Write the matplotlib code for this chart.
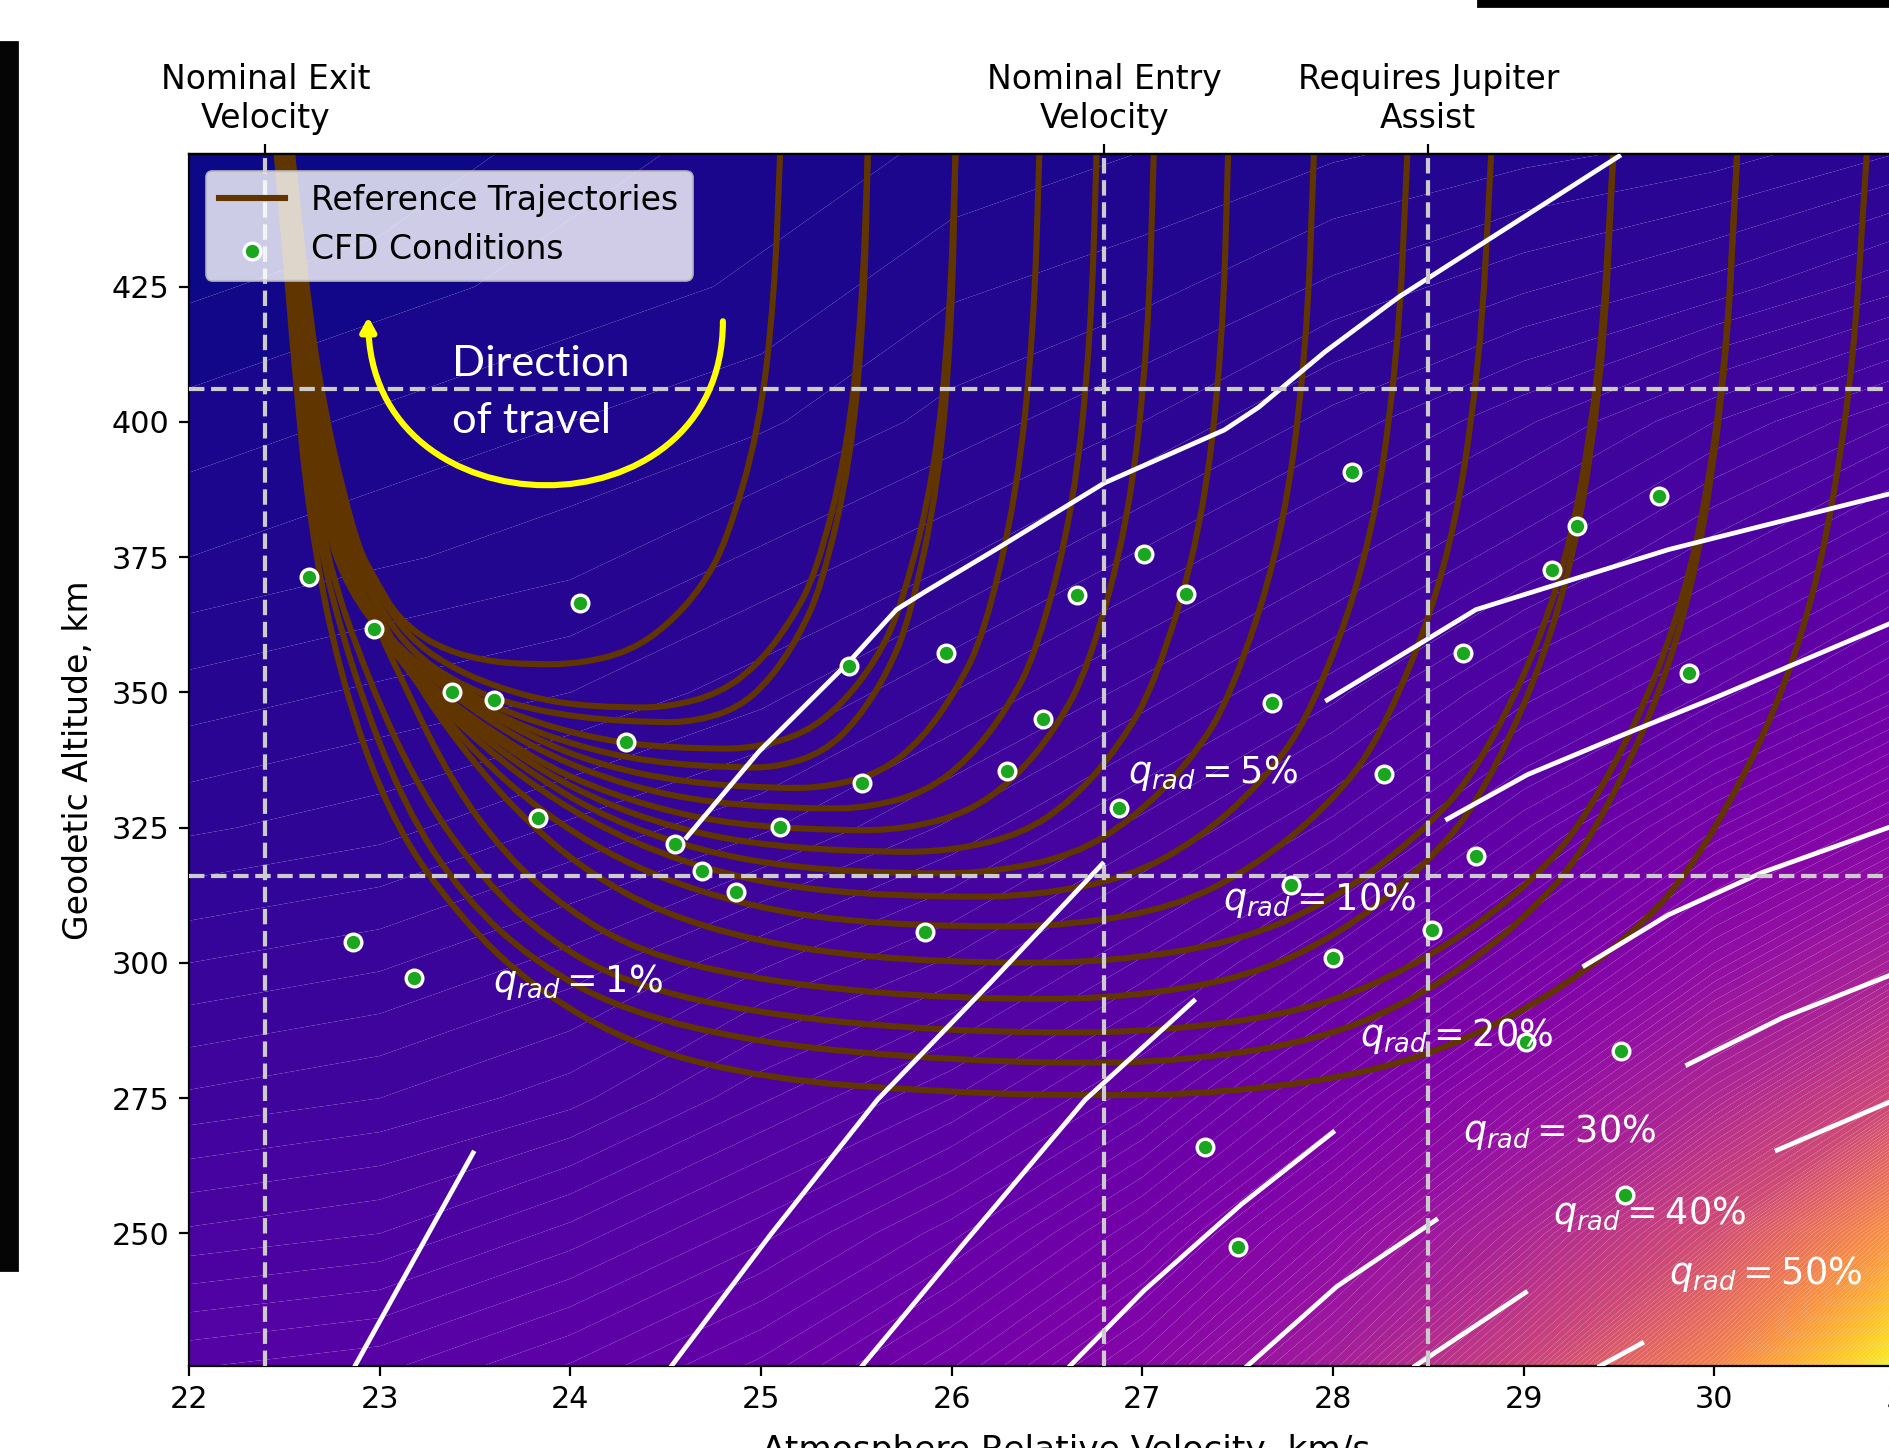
import numpy as np
import matplotlib.pyplot as plt
from matplotlib.path import Path
from matplotlib.patches import FancyArrowPatch, Rectangle, PathPatch
from matplotlib.lines import Line2D

# background heating level (0..1 of colour scale) on a coarse velocity/altitude grid
grid_v = [22, 23, 24, 25, 26, 27, 28, 29, 30, 31, 32]
grid_h = [225, 250, 275, 300, 325, 350, 375, 400, 425, 450]
heat_grid = [
    [0.150, 0.155, 0.170, 0.190, 0.225, 0.275, 0.360, 0.490, 0.700, 1.000, 1.000],
    [0.120, 0.125, 0.140, 0.160, 0.185, 0.225, 0.290, 0.385, 0.520, 0.760, 0.880],
    [0.095, 0.100, 0.110, 0.130, 0.150, 0.180, 0.230, 0.300, 0.390, 0.510, 0.610],
    [0.075, 0.080, 0.090, 0.105, 0.120, 0.145, 0.180, 0.230, 0.300, 0.370, 0.440],
    [0.055, 0.060, 0.070, 0.080, 0.095, 0.115, 0.140, 0.180, 0.230, 0.280, 0.330],
    [0.040, 0.045, 0.050, 0.060, 0.075, 0.090, 0.110, 0.140, 0.170, 0.210, 0.250],
    [0.025, 0.030, 0.035, 0.045, 0.055, 0.070, 0.085, 0.105, 0.130, 0.160, 0.190],
    [0.015, 0.020, 0.025, 0.030, 0.040, 0.050, 0.065, 0.080, 0.100, 0.120, 0.140],
    [0.005, 0.010, 0.015, 0.020, 0.030, 0.035, 0.045, 0.055, 0.065, 0.080, 0.090],
    [0.000, 0.000, 0.010, 0.015, 0.020, 0.025, 0.030, 0.035, 0.040, 0.050, 0.060],
]

# q_rad iso-lines, each in two pieces with the label sitting in the gap
q_levels = ['1', '5', '10', '20', '30', '40', '50']
q_low_v = [
    [22.87, 23.49],
    [24.53, 25.05, 25.61, 26.21, 26.79],
    [25.53, 26.06, 26.70, 27.27],
    [26.62, 27.01, 27.52, 28.00],
    [27.55, 28.02, 28.54],
    [28.43, 29.01],
    [29.40, 29.62],
]
q_low_h = [
    [225.5, 264.9],
    [225.5, 249.8, 274.7, 296.6, 318.3],
    [225.5, 248.0, 274.7, 293.0],
    [225.5, 239.5, 255.4, 268.7],
    [225.5, 240.2, 252.5],
    [225.5, 239.1],
    [225.5, 229.7],
]
q_up_v = [
    [24.61, 24.99, 25.46, 25.71, 25.86, 26.23, 26.80, 27.43, 27.61, 27.96, 28.35, 29.50],
    [27.97, 28.75, 29.76, 30.92],
    [28.60, 29.02, 29.51, 30.01, 30.92],
    [29.32, 29.76, 30.25, 30.92],
    [29.86, 30.36, 30.92],
    [30.33, 30.92],
    [],
]
q_up_h = [
    [323.2, 339.1, 355.6, 365.3, 368.6, 376.4, 388.7, 398.5, 402.7, 413.0, 423.2, 449.1],
    [348.6, 365.3, 376.4, 386.7],
    [326.6, 334.8, 342.0, 349.1, 362.7],
    [299.5, 308.9, 316.7, 325.1],
    [281.2, 289.9, 297.7],
    [265.4, 274.3],
    [],
]
q_label_v = [24.04, 27.37, 27.93, 28.65, 29.19, 29.66, 30.27]
q_label_h = [294.7, 333.3, 309.8, 284.6, 266.9, 251.8, 240.6]

# reference trajectories (velocity km/s, altitude km): entry at right, exit at left
traj_v = [
    [25.10, 25.07, 24.99, 24.82, 24.69, 24.51, 24.31, 24.06, 23.82,
     23.54, 23.28, 23.09, 22.99, 22.87, 22.78, 22.68, 22.61, 22.56, 22.53],
    [25.56, 25.53, 25.45, 25.29, 25.15, 24.98, 24.78, 24.53, 24.29,
     23.92, 23.60, 23.35, 23.16, 23.02, 22.90, 22.81, 22.71, 22.63, 22.54],
    [25.56, 25.54, 25.47, 25.32, 25.20, 25.05, 24.88, 24.66, 24.45,
     24.04, 23.66, 23.38, 23.16, 23.00, 22.89, 22.80, 22.70, 22.62, 22.54],
    [26.02, 25.99, 25.91, 25.74, 25.61, 25.43, 25.23, 24.97, 24.74,
     24.29, 23.92, 23.57, 23.25, 23.00, 22.83, 22.71, 22.63, 22.57, 22.51],
    [26.02, 26.00, 25.93, 25.78, 25.66, 25.50, 25.33, 25.10, 24.89,
     24.42, 24.04, 23.66, 23.31, 23.03, 22.84, 22.72, 22.64, 22.57, 22.51],
    [26.46, 26.43, 26.34, 26.17, 26.02, 25.84, 25.63, 25.36, 25.12,
     24.61, 24.17, 23.79, 23.44, 23.13, 22.89, 22.75, 22.66, 22.58, 22.51],
    [26.76, 26.73, 26.64, 26.45, 26.29, 26.09, 25.86, 25.57, 25.31,
     24.74, 24.29, 23.88, 23.54, 23.22, 22.97, 22.79, 22.68, 22.59, 22.50],
    [27.06, 27.03, 26.93, 26.72, 26.55, 26.33, 26.08, 25.76, 25.46,
     24.86, 24.42, 23.98, 23.63, 23.28, 23.01, 22.81, 22.69, 22.59, 22.50],
    [27.45, 27.42, 27.31, 27.07, 26.88, 26.64, 26.37, 26.01, 25.68,
     25.05, 24.55, 24.10, 23.73, 23.36, 23.05, 22.83, 22.70, 22.60, 22.49],
    [27.90, 27.86, 27.73, 27.46, 27.24, 26.95, 26.64, 26.22, 25.84,
     25.18, 24.67, 24.20, 23.82, 23.44, 23.11, 22.87, 22.71, 22.61, 22.49],
    [28.39, 28.34, 28.19, 27.88, 27.62, 27.29, 26.92, 26.44, 26.00,
     25.31, 24.80, 24.33, 23.92, 23.54, 23.18, 22.90, 22.73, 22.61, 22.49],
    [28.83, 28.77, 28.60, 28.25, 27.96, 27.58, 27.17, 26.63, 26.13,
     25.43, 24.93, 24.45, 24.04, 23.66, 23.31, 23.01, 22.79, 22.65, 22.56, 22.49],
    [29.47, 29.40, 29.20, 28.78, 28.43, 27.99, 27.49, 26.85, 26.25,
     25.56, 24.99, 24.48, 24.10, 23.79, 23.50, 23.22, 22.94, 22.73, 22.61, 22.48],
    [29.47, 29.41, 29.21, 28.80, 28.46, 28.03, 27.55, 26.93, 26.35,
     25.62, 24.93, 24.36, 23.98, 23.66, 23.38, 23.13, 22.87, 22.68, 22.58, 22.47],
    [30.12, 30.05, 29.82, 29.34, 28.95, 28.44, 27.88, 27.15, 26.47,
     25.68, 24.93, 24.29, 23.88, 23.54, 23.22, 22.94, 22.71, 22.60, 22.53, 22.47],
    [30.12, 30.05, 29.83, 29.36, 28.98, 28.49, 27.94, 27.23, 26.57,
     25.81, 24.99, 24.29, 23.82, 23.44, 23.13, 22.86, 22.66, 22.58, 22.52, 22.46],
    [30.80, 30.71, 30.45, 29.91, 29.47, 28.90, 28.25, 27.43, 26.66,
     25.87, 25.05, 24.36, 23.82, 23.42, 23.06, 22.79, 22.63, 22.55, 22.50, 22.46],
]
traj_h = [
    [449.5, 423.1, 398.5, 378.0, 369.5, 362.4, 357.6, 355.4, 355.1,
     355.8, 358.7, 364.0, 370.0, 377.8, 386.7, 400.1, 415.7, 433.5, 449.5],
    [449.5, 420.8, 394.2, 372.0, 362.8, 355.0, 349.8, 347.4, 347.1,
     348.0, 351.1, 355.1, 360.0, 366.7, 375.6, 386.7, 402.3, 420.1, 449.5],
    [449.5, 420.1, 392.7, 369.9, 360.5, 352.5, 347.1, 344.7, 344.4,
     345.3, 348.0, 352.2, 357.8, 365.6, 374.5, 385.6, 401.2, 420.1, 449.5],
    [449.5, 418.7, 390.1, 366.2, 356.3, 348.0, 342.4, 339.8, 339.5,
     340.4, 343.3, 347.7, 354.0, 361.1, 370.0, 381.1, 395.6, 417.9, 449.5],
    [449.5, 417.7, 388.2, 363.6, 353.4, 344.7, 339.0, 336.3, 336.0,
     337.1, 340.0, 344.9, 352.2, 360.0, 368.9, 380.0, 394.5, 417.9, 449.5],
    [449.5, 416.7, 386.2, 360.7, 350.1, 341.2, 335.2, 332.6, 332.2,
     333.3, 336.4, 341.7, 348.9, 357.1, 366.7, 377.8, 391.2, 413.4, 449.5],
    [449.5, 415.6, 384.1, 357.8, 346.9, 337.7, 331.5, 328.8, 328.4,
     329.5, 332.8, 338.4, 345.5, 354.0, 363.3, 374.5, 388.9, 411.2, 449.5],
    [449.5, 414.5, 381.9, 354.8, 343.5, 334.0, 327.7, 324.8, 324.4,
     325.5, 328.8, 334.4, 341.7, 350.6, 360.7, 372.2, 386.7, 409.0, 449.5],
    [449.5, 413.4, 379.8, 351.8, 340.2, 330.3, 323.8, 320.8, 320.4,
     321.5, 324.8, 330.6, 338.2, 347.7, 358.2, 370.5, 385.2, 406.8, 449.5],
    [449.5, 412.2, 377.6, 348.7, 336.8, 326.6, 319.9, 316.8, 316.4,
     317.5, 320.8, 326.6, 334.4, 344.4, 355.5, 368.5, 383.4, 404.5, 449.5],
    [449.5, 411.0, 375.3, 345.5, 333.1, 322.7, 315.7, 312.5, 312.1,
     313.2, 316.4, 322.1, 329.9, 340.0, 352.2, 366.2, 381.8, 403.4, 449.5],
    [449.5, 409.5, 372.3, 341.3, 328.5, 317.6, 310.3, 307.0, 306.6,
     307.7, 310.6, 315.9, 323.3, 333.3, 346.2, 361.1, 376.7, 397.8, 422.3, 449.5],
    [449.5, 407.6, 368.7, 336.3, 322.8, 311.4, 303.8, 300.3, 299.9,
     301.0, 303.9, 309.2, 316.6, 325.5, 336.6, 350.0, 367.8, 388.9, 416.8, 449.5],
    [449.5, 405.7, 365.1, 331.2, 317.1, 305.2, 297.3, 293.7, 293.2,
     294.3, 297.2, 302.1, 309.9, 319.9, 333.3, 351.1, 371.1, 395.6, 426.8, 449.5],
    [449.5, 404.0, 361.8, 326.5, 311.9, 299.5, 291.2, 287.5, 287.0,
     288.1, 291.0, 296.3, 304.3, 315.5, 331.1, 352.2, 375.6, 402.3, 431.2, 449.5],
    [449.5, 402.4, 358.7, 322.2, 307.1, 294.3, 285.8, 281.9, 281.4,
     282.5, 285.2, 291.0, 299.9, 312.1, 328.8, 353.3, 380.0, 406.8, 433.5, 449.5],
    [449.5, 400.8, 355.5, 317.7, 302.0, 288.8, 279.9, 275.9, 275.4,
     276.3, 278.5, 284.3, 295.0, 308.3, 326.2, 352.9, 381.8, 411.2, 433.5, 449.5],
]

# CFD conditions
cfd_v = [22.63, 22.97, 23.38, 23.60, 24.05, 23.83, 24.29, 24.55, 24.69, 24.87,
         22.86, 23.18, 25.10, 25.46, 25.53, 25.97, 25.86, 26.29, 26.48, 26.66,
         26.88, 27.01, 27.23, 27.33, 27.50, 27.68, 27.78, 28.00, 28.10, 28.27,
         28.52, 28.68, 28.75, 29.01, 29.15, 29.28, 29.51, 29.53, 29.71, 29.87]
cfd_h = [371.3, 361.8, 350.0, 348.6, 366.5, 326.7, 340.9, 321.9, 317.0, 313.2,
         303.9, 297.2, 325.2, 354.8, 333.3, 357.3, 305.8, 335.5, 345.1, 368.0,
         328.6, 375.5, 368.1, 266.0, 247.5, 348.0, 314.4, 300.9, 390.7, 335.0,
         306.1, 357.2, 319.8, 285.4, 372.6, 380.7, 283.8, 257.1, 386.3, 353.5]

# design limits
v_marks = [22.4, 26.8, 28.5]
v_mark_labels = ['Nominal Exit\nVelocity', 'Nominal Entry\nVelocity', 'Requires Jupiter\nAssist']
h_marks = [406, 316]

# "direction of travel" arrow (cubic curve: start, two handles, tip)
arrow_v = [24.80, 24.80, 22.94, 22.94]
arrow_h = [418.6, 377.8, 378.7, 419.4]

brown = '#603500'


def smooth_path(v, h):
    pts = np.column_stack([v, h])
    mids = (pts[:-1] + pts[1:]) / 2
    verts = [pts[0], mids[0]]
    codes = [Path.MOVETO, Path.LINETO]
    for i in range(1, len(pts) - 1):
        verts += [pts[i], mids[i]]
        codes += [Path.CURVE3, Path.CURVE3]
    verts.append(pts[-1])
    codes.append(Path.LINETO)
    return Path(verts, codes)


fig = plt.figure(figsize=(9.445, 7.24), dpi=200)
ax = fig.add_axes([0.1001, 0.0566, 0.9285, 0.8370])

ax.contourf(grid_v, grid_h, heat_grid, levels=np.linspace(0, 1, 161), cmap='plasma',
            vmin=0, vmax=1, antialiased=True, zorder=0)

for v, h in zip(traj_v, traj_h):
    ax.add_patch(PathPatch(smooth_path(v, h), fill=False, edgecolor=brown, lw=2.2,
                           capstyle='butt', zorder=2))

for lv, lh, uv, uh, lab, tv, th in zip(q_low_v, q_low_h, q_up_v, q_up_h, q_levels,
                                        q_label_v, q_label_h):
    ax.plot(lv, lh, color='white', lw=1.7, zorder=3)
    if uv:
        ax.plot(uv, uh, color='white', lw=1.7, zorder=3)
    ax.text(tv, th, r'$q_{rad} = ' + lab + r'\%$', color='white', fontsize=13.2,
            ha='center', va='baseline', zorder=6)

for v in v_marks:
    ax.axvline(v, color='0.8', ls='--', lw=1.5, zorder=4)
for h in h_marks:
    ax.axhline(h, color='0.8', ls='--', lw=1.5, zorder=4)

pts = ax.scatter(cfd_v, cfd_h, s=36, color='#1aa61f', edgecolor='white', linewidth=1.2,
                 zorder=5, label='CFD Conditions')

arc = Path(list(zip(arrow_v, arrow_h)), [Path.MOVETO, Path.CURVE4, Path.CURVE4, Path.CURVE4])
ax.add_patch(FancyArrowPatch(path=arc, arrowstyle='-|>,head_length=4,head_width=2.2',
                             color='yellow', lw=2.2, shrinkA=0, shrinkB=0, zorder=6))
ax.text(23.38, 408.4, 'Direction', color='white', fontsize=15.6, family='Lato',
        ha='left', va='baseline', zorder=6)
ax.text(23.38, 397.9, 'of travel', color='white', fontsize=15.6, family='Lato',
        ha='left', va='baseline', zorder=6)

ax.set_xlim(22, 31.2)
ax.set_ylim(225.5, 449.5)
ax.set_xticks(range(22, 32))
ax.set_yticks(range(250, 450, 25))
ax.tick_params(labelsize=10.9)
ax.set_xlabel('Atmosphere Relative Velocity, km/s', fontsize=12.4, labelpad=7)
ax.set_ylabel('Geodetic Altitude, km', fontsize=11.9, labelpad=6)

top = ax.secondary_xaxis('top')
top.set_xticks(v_marks, v_mark_labels)
top.tick_params(labelsize=11.9)

traj_handle = Line2D([], [], color=brown, lw=2.2)
ax.legend([traj_handle, pts], ['Reference Trajectories', 'CFD Conditions'],
          loc='upper left', fontsize=11.9)

# dark strips left over from the surrounding page
fig.patches.append(Rectangle((0, 0.1229), 0.009, 0.848, transform=fig.transFigure,
                             color='#050505', zorder=10))
fig.patches.append(Rectangle((0.7824, 0.99586), 0.2176, 0.0042, transform=fig.transFigure,
                             color='black', zorder=10))

fig.savefig('out.png', dpi=200)
